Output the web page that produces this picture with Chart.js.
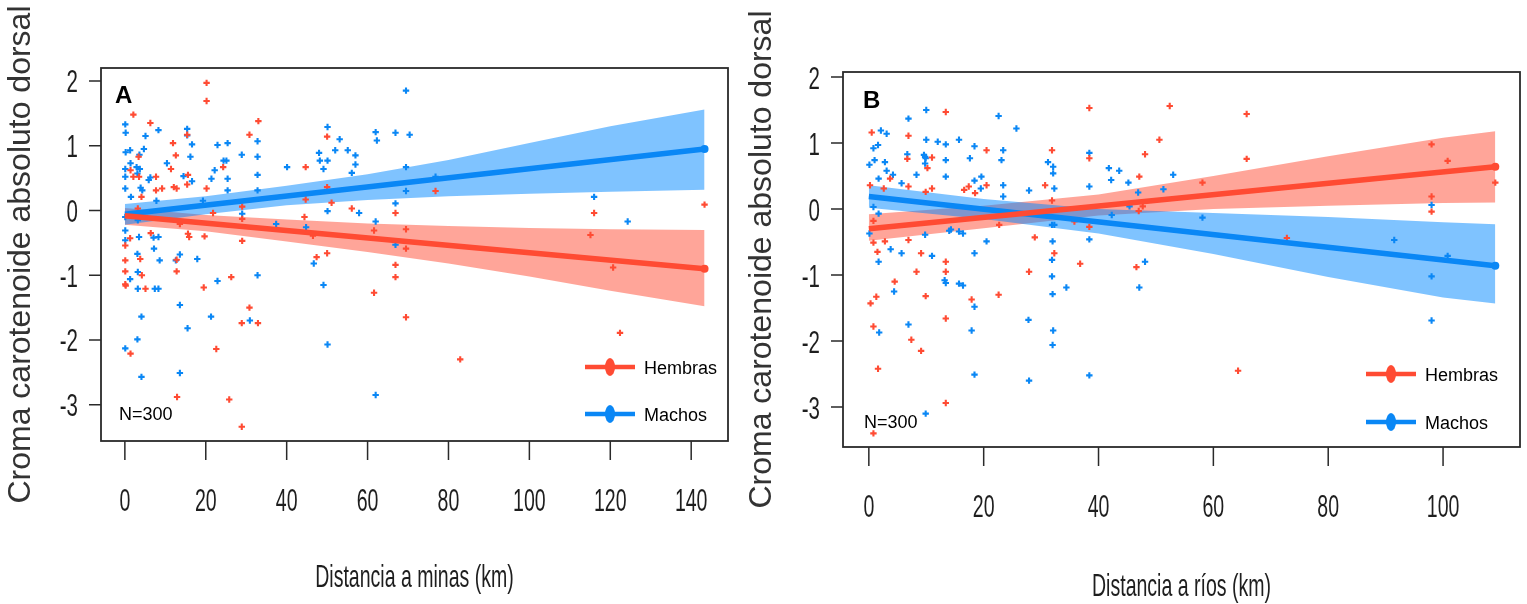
<!DOCTYPE html>
<html>
<head>
<meta charset="utf-8">
<script src="https://cdn.jsdelivr.net/npm/chart.js@4.4.1/dist/chart.umd.min.js"></script>
<style>
  html, body { margin: 0; background: #fff; }
  #wrap { position: relative; width: 1527px; height: 604px; }
  canvas { position: absolute; top: 0; }
</style>
</head>
<body>
<div id="wrap">
  <canvas id="chartA" width="740" height="604" style="left:0"></canvas>
  <canvas id="chartB" width="787" height="604" style="left:740px"></canvas>
</div>
<script>
// --- tick labels ---
const yTicks = [-3, -2, -1, 0, 1, 2];
const xTicksA = [0, 20, 40, 60, 80, 100, 120, 140];
const xTicksB = [0, 20, 40, 60, 80, 100];

// --- panel A: distancia a minas ---
const hembrasA = [[0.1,-0.54],[0.1,-0.77],[0.1,-0.94],[0.1,-1.14],[0.2,-1.16],[1.3,-0.43],[1.4,-2.21],[1.4,0.62],[2.1,0.52],[2.1,1.48],
  [3.4,0.83],[3.5,0.52],[3.2,0.03],[4.1,0.21],[3.8,-0.75],[4.2,-1.00],[5.1,-1.21],[6.3,1.35],[6.4,-0.35],[7.7,0.52],[7.7,0.31],
  [9.2,0.34],[11.4,0.64],[11.9,1.04],[12.6,0.85],[12.1,0.36],[12.8,0.34],[13.6,-0.21],[15.6,0.55],[15.4,0.40],[15.4,1.17],
  [15.6,-0.36],[15.9,-0.41],[12.8,-0.76],[12.8,-0.94],[12.9,-2.88],[20.2,1.97],[20.2,1.69],[20.2,0.34],[21.8,-0.04],[19.7,-0.40],
  [19.5,-1.19],[22.6,-2.14],[24.3,0.67],[26.3,-1.03],[25.8,-2.92],[29.0,0.06],[29.0,-0.13],[29.0,-0.47],[28.9,-1.74],[28.9,-3.34],
  [30.8,1.17],[30.8,-1.50],[33.0,1.38],[32.9,-1.74],[44.7,0.67],[44.7,0.17],[44.4,-0.10],[46.5,-0.39],[47.4,-0.72],[50.0,1.14],
  [50.0,0.36],[51.1,0.12],[50.0,-0.66],[56.1,0.03],[61.6,-0.31],[61.6,-1.27],[76.8,0.30],[66.9,-0.04],[69.5,-0.29],[69.5,-0.59],
  [66.9,-0.84],[66.9,-1.03],[69.5,-1.65],[82.9,-2.30],[115.1,-0.38],[116.0,-0.04],[120.7,-0.88],[122.4,-1.89],[143.3,0.09]];
const machosA = [[0.1,1.33],[0.2,1.20],[0.2,0.90],[0.1,0.64],[0.1,0.52],[0.1,0.34],[0.1,-0.10],[0.1,-0.31],[0.1,-0.46],[0.1,-2.13],
  [1.3,0.93],[1.4,0.73],[1.5,0.21],[1.3,-1.06],[2.9,0.67],[3.1,0.57],[3.6,0.86],[3.7,0.64],[3.9,0.35],[4.3,0.31],[5.1,1.15],
  [4.7,0.95],[3.2,-0.15],[3.5,-0.41],[3.1,-0.67],[3.2,-0.95],[3.2,-1.21],[4.1,-1.64],[3.1,-1.99],[4.1,-2.57],[8.3,1.24],[5.9,0.47],
  [6.3,0.51],[7.8,0.15],[7.1,-0.42],[8.3,-0.41],[7.2,-0.59],[8.6,-0.77],[7.4,-1.21],[8.3,-1.21],[10.4,0.73],[14.5,0.53],[15.4,1.26],
  [15.4,1.16],[16.2,0.83],[16.6,1.02],[16.6,0.45],[12.6,-0.77],[13.6,-0.68],[13.6,-1.46],[15.5,-1.82],[13.6,-2.51],[17.9,-0.75],
  [19.3,0.15],[21.4,0.49],[22.2,0.62],[22.9,1.01],[24.4,0.77],[25.4,1.04],[25.1,0.77],[25.4,0.49],[25.4,0.31],[21.3,-1.64],
  [22.9,-1.09],[28.9,0.86],[29.0,-0.05],[30.9,-1.70],[32.8,1.07],[32.8,0.83],[32.8,0.55],[32.8,0.31],[32.8,-1.00],[40.1,0.67],
  [37.4,-0.21],[44.8,-0.26],[48.0,0.89],[48.2,0.77],[49.1,0.64],[50.1,1.29],[50.1,0.77],[52.0,0.93],[53.1,1.10],[55.1,0.93],
  [57.0,0.85],[57.0,0.71],[56.1,0.58],[57.9,-0.04],[50.1,-0.01],[50.1,-2.07],[46.7,-0.82],[49.1,-1.15],[62.0,1.21],[62.3,1.08],
  [62.0,-0.17],[62.0,-2.85],[69.5,1.85],[66.9,1.20],[70.4,1.17],[69.5,0.67],[69.5,0.30],[66.9,0.11],[66.9,-0.53],[76.8,0.52],
  [116.0,0.21],[124.3,-0.17]];
const fitA_h = [[0, -0.08], [143.3, -0.90]];
const fitA_m = [[0, -0.06], [143.3, 0.95]];
const bandA_x = [0, 20, 40, 60, 80, 100, 120, 143.3];
const bandA_h_hi = [0.04, -0.07, -0.14, -0.20, -0.24, -0.27, -0.29, -0.30];
const bandA_h_lo = [-0.22, -0.32, -0.48, -0.64, -0.82, -1.02, -1.24, -1.48];
const bandA_m_hi = [0.10, 0.22, 0.38, 0.56, 0.78, 1.04, 1.30, 1.56];
const bandA_m_lo = [-0.22, -0.06, 0.08, 0.16, 0.22, 0.26, 0.29, 0.32];

// --- panel B: distancia a rios ---
const hembrasB = [[0.5,1.16],[0.2,0.36],[0.8,-0.18],[0.8,-0.51],[1.5,-0.65],[2.8,-0.49],[1.3,-1.33],[0.3,-1.43],[0.8,-1.78],
  [1.6,-2.42],[0.8,-3.40],[2.6,0.31],[3.7,0.46],[4.5,-1.10],[6.9,0.34],[6.9,1.11],[6.7,0.76],[6.9,-0.47],[9.1,-0.67],[8.3,-0.95],
  [7.4,-1.98],[9.1,-2.15],[9.9,-1.32],[9.9,0.26],[10.2,0.62],[11.0,0.78],[11.0,0.31],[13.4,1.47],[13.4,-0.80],[13.4,-0.95],
  [13.4,-1.66],[13.4,-2.94],[20.5,0.89],[20.5,0.36],[16.6,0.29],[17.4,0.34],[18.5,0.24],[17.9,-1.37],[22.6,-1.30],[22.7,-0.24],
  [28.9,-0.43],[27.9,-0.95],[30.7,0.36],[31.9,0.89],[31.9,0.13],[32.3,-0.67],[36.8,-0.83],[38.4,1.53],[38.4,0.77],[38.4,-0.27],
  [35.8,-0.19],[47.1,0.49],[46.6,-0.88],[52.4,1.56],[65.8,1.44],[50.6,1.05],[48.1,0.83],[58.1,0.40],[65.8,0.76],[47.0,-0.03],
  [47.7,0.04],[64.3,-2.45],[72.8,-0.44],[98.0,0.98],[98.0,0.19],[98.0,-0.04],[100.8,0.73],[109.1,0.40]];
const machosB = [[0.1,0.67],[0.8,0.92],[1.0,0.74],[1.6,0.97],[2.1,1.19],[3.1,1.14],[1.7,0.46],[2.8,0.71],[3.1,0.58],[4.2,0.52],
  [5.7,0.39],[6.9,1.37],[6.7,0.83],[8.3,0.52],[9.8,0.79],[10.0,1.50],[10.0,1.05],[9.6,0.82],[9.9,0.77],[9.8,0.69],[12.0,1.02],
  [13.4,0.98],[13.4,0.74],[13.4,0.49],[15.7,1.05],[18.4,0.95],[17.6,0.77],[18.4,0.43],[19.6,0.49],[19.5,0.31],[23.4,0.89],
  [23.1,0.74],[23.4,0.36],[23.4,0.19],[25.7,1.22],[22.6,1.41],[1.7,-0.07],[1.7,-0.80],[3.8,-0.61],[5.7,-0.67],[11.0,-0.71],
  [9.8,-0.39],[14.0,-0.33],[14.3,-0.31],[15.7,-0.34],[16.4,-0.37],[20.5,-0.49],[18.4,-0.67],[13.2,-1.08],[13.4,-1.12],[15.7,-1.13],
  [16.4,-1.16],[4.4,-1.25],[18.4,-1.48],[17.9,-1.84],[18.4,-2.51],[6.9,-1.75],[1.8,-1.87],[9.9,-3.10],[27.9,0.28],[27.8,-1.68],
  [27.9,-2.60],[31.2,0.71],[32.1,0.64],[32.1,0.54],[32.3,0.31],[31.9,-0.24],[32.3,-0.24],[32.0,-0.49],[31.9,-0.77],[31.9,-1.02],
  [32.0,-1.29],[32.1,-1.84],[32.0,-2.06],[34.4,-1.19],[38.4,0.85],[38.4,0.34],[38.4,-0.46],[38.4,-2.52],[41.8,0.62],[42.2,0.44],
  [43.6,0.58],[45.2,0.40],[46.9,0.25],[42.3,-0.09],[47.1,-1.19],[45.4,0.04],[51.3,0.30],[53.0,0.52],[48.1,-0.80],[58.1,-0.13],
  [91.5,-0.47],[98.0,0.06],[98.0,-1.02],[98.0,-1.69],[100.8,-0.71],[0.1,-0.37],[0.8,0.03]];
const fitB_h = [[0, -0.30], [109.1, 0.64]];
const fitB_m = [[0, 0.19], [109.1, -0.86]];
const bandB_x = [0, 20, 40, 60, 80, 100, 109.1];
const bandB_h_hi = [-0.08, 0.05, 0.22, 0.50, 0.80, 1.08, 1.18];
const bandB_h_lo = [-0.48, -0.29, -0.10, 0.00, 0.05, 0.09, 0.10];
const bandB_m_hi = [0.36, 0.15, 0.00, -0.06, -0.12, -0.20, -0.23];
const bandB_m_lo = [0.02, -0.15, -0.37, -0.68, -1.03, -1.34, -1.43];

const RED = '#ff4b33', BLUE = '#0a87f5';
const RED_BAND = 'rgba(255,75,51,0.5)', BLUE_BAND = 'rgba(0,135,255,0.5)';
const FONT = '"Liberation Sans", Arial, sans-serif';

const pts = arr => arr.map(p => ({ x: p[0], y: p[1] }));
const zipXY = (xs, ys) => xs.map((x, i) => ({ x: x, y: ys[i] }));

// condensed text, like the stretched R output
function squeezedText(ctx, txt, x, y, size, sx, align) {
  ctx.save();
  ctx.translate(x, y);
  ctx.scale(sx, 1);
  ctx.font = size + 'px ' + FONT;
  ctx.textAlign = align;
  ctx.textBaseline = 'alphabetic';
  ctx.fillText(txt, 0, 0);
  ctx.restore();
}

const decoPlugin = {
  id: 'deco',
  afterDraw(chart, args, o) {
    const ctx = chart.ctx, a = chart.chartArea;
    const xs = chart.scales.x, ys = chart.scales.y;
    ctx.save();
    ctx.strokeStyle = '#2a2a2a';
    ctx.fillStyle = '#1e1e1e';
    ctx.lineWidth = 1.8;
    ctx.strokeRect(a.left, a.top, a.right - a.left, a.bottom - a.top);
    ctx.lineWidth = 1.5;
    ctx.beginPath();
    o.xTicks.forEach(v => { const px = xs.getPixelForValue(v); ctx.moveTo(px, a.bottom); ctx.lineTo(px, a.bottom + 19); });
    o.yTicks.forEach(v => { const py = ys.getPixelForValue(v); ctx.moveTo(a.left, py); ctx.lineTo(a.left - 12, py); });
    ctx.stroke();
    o.xTicks.forEach(v => squeezedText(ctx, String(v), xs.getPixelForValue(v), a.bottom + 70, 32, 0.61, 'center'));
    o.yTicks.forEach(v => squeezedText(ctx, String(v), a.left - 23, ys.getPixelForValue(v) + 11.5, 32, 0.64, 'right'));
    squeezedText(ctx, o.xTitle, (a.left + a.right) / 2, a.bottom + o.xTitleGap, 32, 0.61, 'center');

    // y title
    ctx.save();
    ctx.fillStyle = '#333';
    ctx.translate(a.left - o.yTitleGap, (a.top + a.bottom) / 2);
    ctx.rotate(-Math.PI / 2);
    ctx.font = '32px ' + FONT;
    ctx.textAlign = 'center';
    ctx.textBaseline = 'alphabetic';
    ctx.fillText('Croma carotenoide absoluto dorsal', 0, 0);
    ctx.restore();

    // panel letter and N
    ctx.fillStyle = '#000';
    ctx.textAlign = 'left';
    ctx.textBaseline = 'alphabetic';
    ctx.font = 'bold 24px ' + FONT;
    ctx.fillText(o.letter, o.letterPos[0], o.letterPos[1]);
    ctx.font = '18px ' + FONT;
    ctx.fillText('N=300', o.nPos[0], o.nPos[1]);

    // legend
    const items = [['Hembras', RED, o.legend.y1], ['Machos', BLUE, o.legend.y2]];
    items.forEach(([label, col, y]) => {
      const x = o.legend.x;
      ctx.strokeStyle = col;
      ctx.fillStyle = col;
      ctx.lineWidth = 4.5;
      ctx.beginPath();
      ctx.moveTo(x, y); ctx.lineTo(x + 50, y);
      ctx.stroke();
      ctx.beginPath();
      ctx.ellipse(x + 25, y, 5, 9, 0, 0, Math.PI * 2);
      ctx.fill();
      ctx.fillStyle = '#000';
      ctx.font = '18px ' + FONT;
      ctx.fillText(label, x + 59, y + 7);
    });
    ctx.restore();
  }
};

function bandSets(xs, hi, lo, col, order) {
  return [
    { type: 'line', data: zipXY(xs, hi), fill: '+1', backgroundColor: col, borderWidth: 0, pointRadius: 0, order: order },
    { type: 'line', data: zipXY(xs, lo), fill: false, borderWidth: 0, pointRadius: 0, order: order }
  ];
}

function fitSet(line, col) {
  return { type: 'line', data: pts(line), borderColor: col, backgroundColor: col, borderWidth: 5.5,
    pointRadius: [0, 4], pointBorderWidth: 0, fill: false, order: 0 };
}

function scatterSet(arr, col) {
  return { type: 'scatter', data: pts(arr), pointStyle: 'cross', pointRadius: 3.2, borderColor: col,
    borderWidth: 2.1, order: 1 };
}

function makeChart(id, c) {
  new Chart(document.getElementById(id), {
    type: 'scatter',
    data: {
      datasets: [
        ...bandSets(c.bandX, c.hHi, c.hLo, RED_BAND, 3),
        ...bandSets(c.bandX, c.mHi, c.mLo, BLUE_BAND, 2),
        scatterSet(c.hembras, RED),
        scatterSet(c.machos, BLUE),
        fitSet(c.fitH, RED),
        fitSet(c.fitM, BLUE)
      ]
    },
    options: {
      responsive: false,
      animation: false,
      layout: { padding: c.pad },
      scales: {
        x: { type: 'linear', display: false, min: c.xMin, max: c.xMax },
        y: { type: 'linear', display: false, min: c.yMin, max: c.yMax }
      },
      plugins: {
        legend: { display: false },
        tooltip: { enabled: false },
        deco: c.deco
      }
    },
    plugins: [decoPlugin]
  });
}

makeChart('chartA', {
  bandX: bandA_x, hHi: bandA_h_hi, hLo: bandA_h_lo, mHi: bandA_m_hi, mLo: bandA_m_lo,
  hembras: hembrasA, machos: machosA, fitH: fitA_h, fitM: fitA_m,
  pad: { left: 101, right: 12, top: 68, bottom: 163 },
  xMin: -5.9, xMax: 149.1, yMin: -3.56, yMax: 2.2,
  deco: { xTicks: xTicksA, yTicks: yTicks, xTitle: 'Distancia a minas (km)', xTitleGap: 146, yTitleGap: 71,
    letter: 'A', letterPos: [115, 103], nPos: [119, 420], legend: { x: 585, y1: 367, y2: 414 } }
});

makeChart('chartB', {
  bandX: bandB_x, hHi: bandB_h_hi, hLo: bandB_h_lo, mHi: bandB_m_hi, mLo: bandB_m_lo,
  hembras: hembrasB, machos: machosB, fitH: fitB_h, fitM: fitB_m,
  pad: { left: 103, right: 7, top: 72, bottom: 157 },
  xMin: -4.5, xMax: 113.4, yMin: -3.606, yMax: 2.076,
  deco: { xTicks: xTicksB, yTicks: yTicks, xTitle: 'Distancia a ríos (km)', xTitleGap: 149, yTitleGap: 72,
    letter: 'B', letterPos: [123, 108], nPos: [124, 428], legend: { x: 626, y1: 374, y2: 422 } }
});
</script>
</body>
</html>
